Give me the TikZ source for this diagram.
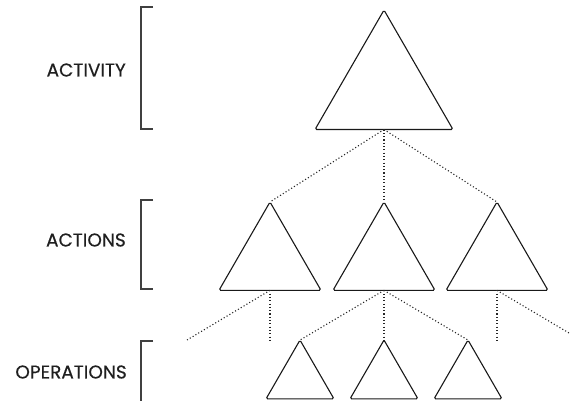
\documentclass[tikz,border=0pt]{standalone}
\usepackage{fontspec}
\setmainfont{Poppins}[FakeBold=0.4]
\usetikzlibrary{shapes.geometric}
\begin{document}
\begin{tikzpicture}[x=1pt,y=-1pt,
  tri/.style={regular polygon, regular polygon sides=3, draw=black!90,
    line width=1.1pt, rounded corners=1.6pt, inner sep=0pt, outer sep=0pt},
  big/.style={tri, minimum size=159.3pt},
  mid/.style={tri, minimum size=117.8pt},
  small/.style={tri, minimum size=78.5pt},
  link/.style={draw=black!85, line width=1.1pt, dash pattern=on 1.1pt off 2.2pt},
  brace/.style={draw=black!75, line width=1.1pt},
  level/.style={anchor=east, font=\fontsize{18.5}{20}\selectfont, text=black!88, inner sep=0pt}]
\useasboundingbox (0,0) rectangle (571,401);

% level labels and brackets
\node[level] (lact) at (126,70) {ACTIVITY};
\node[level] (lacn) at (126,240) {ACTIONS};
\node[level] (lops) at (127,372) {OPERATIONS};
\draw[brace] (153,7) -- (141,7) -- (141,129) -- (153,129);
\draw[brace] (153,200) -- (141,200) -- (141,289) -- (153,289);
\draw[brace] (153,341) -- (141,341) -- (141,401);

% triangles
\node[big] (top) at (384,89.7) {};
\node[mid] (m1) at (270,260.9) {};
\node[mid] (m2) at (384,260.9) {};
\node[mid] (m3) at (497,260.9) {};
\node[small] (s1) at (300,379.3) {};
\node[small] (s2) at (384,379.3) {};
\node[small] (s3) at (468,379.3) {};

% loose ends of the outer links
\coordinate (lo1) at (187,340);
\coordinate (lo2) at (270,342);
\coordinate (lo3) at (497,342);
\coordinate (lo4) at (569,333);

% dotted links
\draw[link] (top.side 2) -- (m1.corner 1);
\draw[link] (top.side 2) -- (m2.corner 1);
\draw[link] (top.side 2) -- (m3.corner 1);
\draw[link] (m1.side 2) -- (lo1);
\draw[link] (m1.side 2) -- (lo2);
\draw[link] (m2.side 2) -- (s1.corner 1);
\draw[link] (m2.side 2) -- (s2.corner 1);
\draw[link] (m2.side 2) -- (s3.corner 1);
\draw[link] (m3.side 2) -- (lo3);
\draw[link] (m3.side 2) -- (lo4);
\end{tikzpicture}
\end{document}
